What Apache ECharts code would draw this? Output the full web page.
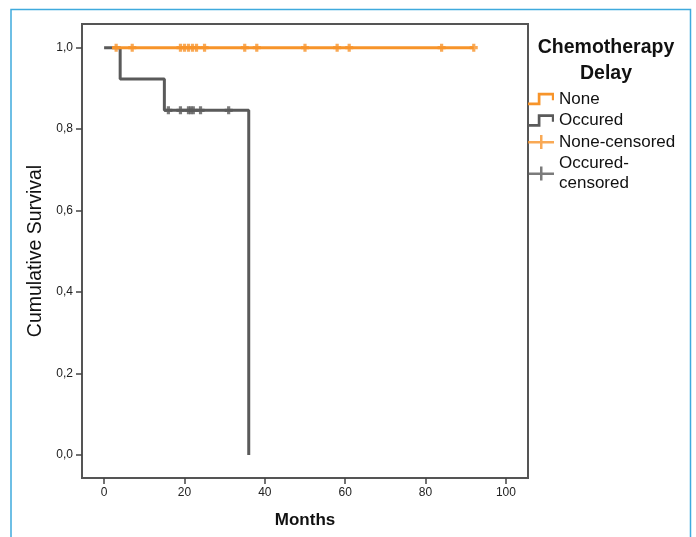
<!DOCTYPE html>
<html>
<head>
<meta charset="utf-8">
<script src="https://cdn.jsdelivr.net/npm/echarts@6/dist/echarts.min.js"></script>
<style>
html,body{margin:0;padding:0;background:#fff;}
#chart{width:696px;height:537px;}
</style>
</head>
<body>
<div id="chart"></div>
<script>
// ---- data ----
const xTicks = [0, 20, 40, 60, 80, 100];
const yTicks = [0, 0.2, 0.4, 0.6, 0.8, 1.0];
const groupNames = ['None', 'Occured', 'None-censored', 'Occured-censored'];
const noneTimes = [2, 92];
const noneSurv = [1, 1];
const occTimes = [0, 4, 15, 36];
const occSurv = [1, 0.923, 0.846, 0];
const noneCensTimes = [3, 7, 19, 20, 21, 22, 23, 25, 35, 38, 50, 58, 61, 84, 92];
const noneCensSurv = [1, 1, 1, 1, 1, 1, 1, 1, 1, 1, 1, 1, 1, 1, 1];
const occCensTimes = [16, 19, 21, 21.6, 22.2, 24, 31];
const occCensSurv = [0.846, 0.846, 0.846, 0.846, 0.846, 0.846, 0.846];

const zip = (a, b) => a.map((v, i) => [v, b[i]]);
const ORANGE = '#F7942A';
const GRAY = '#5A5A5A';
const plusPath = 'path://M3,0H7V3H10V7H7V10H3V7H0V3H3Z';
const plusIcon = 'path://M0,6H12V0H14.5V6H26V8.5H14.5V14H12V8.5H0Z';
const stepIcon = 'path://M0,11H9V2H24V9H22V4.5H11.5V13.5H0Z';
const FONT = '"Liberation Sans", Arial, sans-serif';

const chart = echarts.init(document.getElementById('chart'), null, {renderer: 'canvas'});
chart.setOption({
  animation: false,
  backgroundColor: '#fff',
  textStyle: {fontFamily: FONT},
  title: {
    text: 'Chemotherapy\nDelay',
    left: 601, top: 30, textAlign: 'center',
    textStyle: {fontFamily: FONT, fontSize: 19.5, fontWeight: 'bold', color: '#111', lineHeight: 26}
  },
  legend: {
    orient: 'vertical',
    left: 528, top: 89,
    itemWidth: 26, itemHeight: 14, itemGap: 1.5,
    padding: 0,
    data: [
      {name: groupNames[0], icon: stepIcon, itemStyle: {color: ORANGE}},
      {name: groupNames[1], icon: stepIcon, itemStyle: {color: GRAY}},
      {name: groupNames[2], icon: plusIcon, itemStyle: {color: ORANGE}},
      {name: groupNames[3], icon: plusIcon, itemStyle: {color: GRAY}}
    ],
    formatter: n => n === 'Occured-censored' ? 'Occured-\ncensored' : n,
    textStyle: {fontFamily: FONT, fontSize: 17, color: '#111', lineHeight: 20}
  },
  grid: {
    left: 82, right: 168, top: 24, bottom: 59,
    show: true, borderColor: '#555', borderWidth: 2, backgroundColor: 'transparent'
  },
  xAxis: {
    type: 'value', min: -5.5, max: 105.5,
    name: 'Months', nameLocation: 'middle', nameGap: 34,
    nameTextStyle: {fontFamily: FONT, fontSize: 17, fontWeight: 'bold', color: '#111'},
    axisLine: {show: true, onZero: false, lineStyle: {color: '#555', width: 2}},
    axisTick: {show: true, length: 6, lineStyle: {color: '#444', width: 1.5}, customValues: xTicks},
    axisLabel: {customValues: xTicks, margin: 9, fontSize: 12, color: '#222', fontFamily: FONT},
    splitLine: {show: false}
  },
  yAxis: {
    type: 'value', min: -0.0565, max: 1.058,
    name: 'Cumulative Survival', nameLocation: 'middle', nameGap: 36, nameRotate: 90,
    nameTextStyle: {fontFamily: FONT, fontSize: 19.5, color: '#111'},
    axisLine: {show: true, onZero: false, lineStyle: {color: '#555', width: 2}},
    axisTick: {show: true, length: 6, lineStyle: {color: '#444', width: 1.5}, customValues: yTicks},
    axisLabel: {customValues: yTicks, margin: 9, fontSize: 12, color: '#222', fontFamily: FONT,
      formatter: v => v.toFixed(1).replace('.', ',')},
    splitLine: {show: false}
  },
  graphic: [{
    type: 'polyline', silent: true,
    shape: {points: [[11, 537], [11, 9.5], [690.5, 9.5], [690.5, 537]]},
    style: {stroke: '#3FAADD', lineWidth: 1.5, fill: null}
  }],
  series: [
    {name: groupNames[1], type: 'line', step: 'end', data: zip(occTimes, occSurv),
      showSymbol: false, lineStyle: {color: GRAY, width: 3}, itemStyle: {color: GRAY}, z: 2},
    {name: groupNames[3], type: 'scatter', data: zip(occCensTimes, occCensSurv),
      symbol: plusPath, symbolSize: [8, 8], itemStyle: {color: GRAY}, z: 3},
    {name: groupNames[0], type: 'line', data: zip(noneTimes, noneSurv),
      showSymbol: false, lineStyle: {color: ORANGE, width: 3}, itemStyle: {color: ORANGE}, z: 4},
    {name: groupNames[2], type: 'scatter', data: zip(noneCensTimes, noneCensSurv),
      symbol: plusPath, symbolSize: [8, 8], itemStyle: {color: ORANGE}, z: 5}
  ]
});
</script>
</body>
</html>
